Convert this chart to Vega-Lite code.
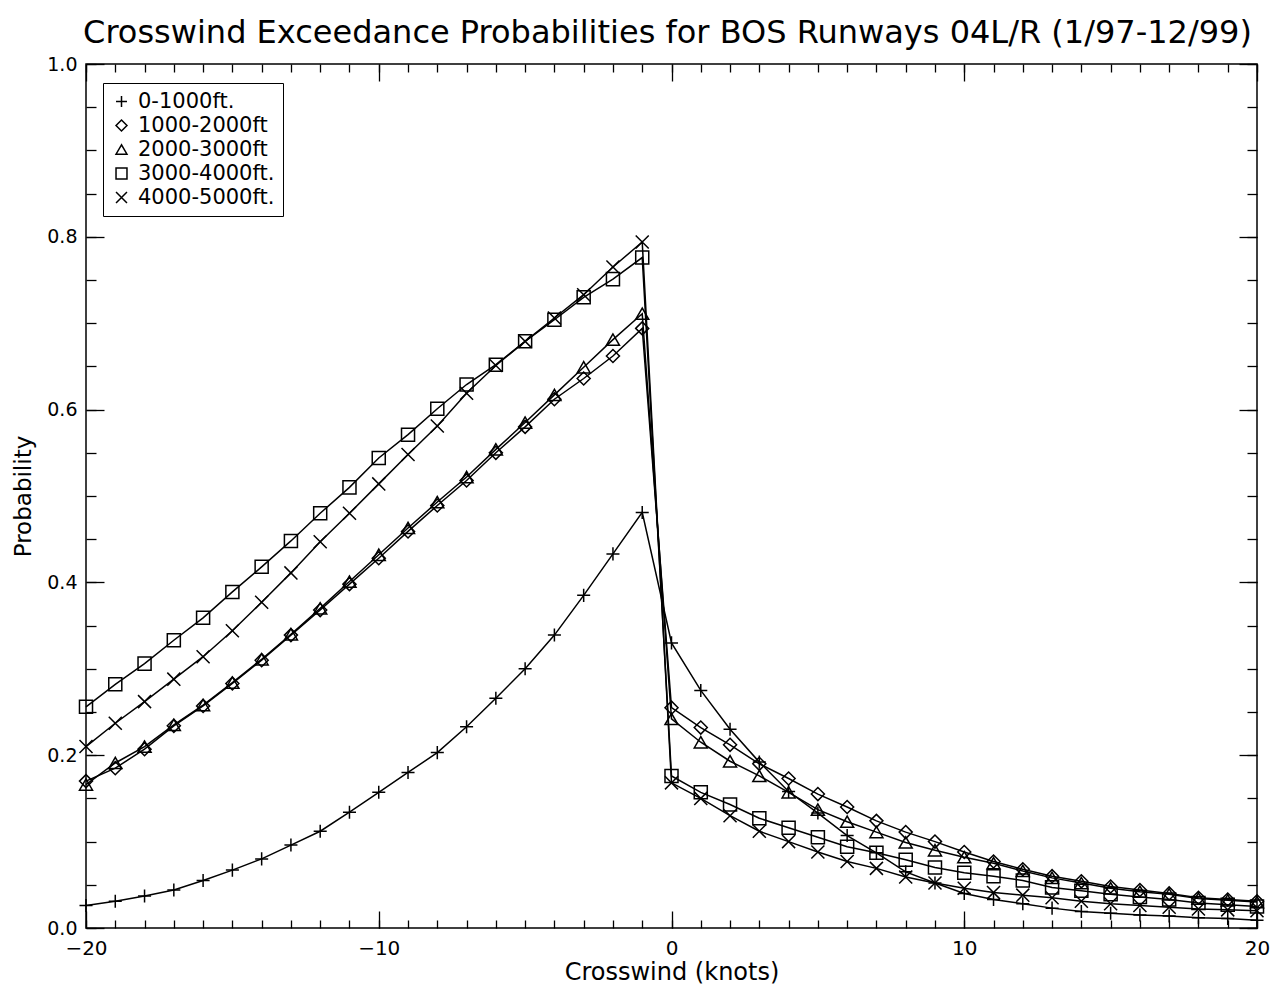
{
 "$schema": "https://vega.github.io/schema/vega-lite/v6.json",
 "width": 1171, "height": 864,
 "autosize": {"type": "none"},
 "padding": {"left": 86, "top": 64, "right": 21, "bottom": 67},
 "background": "white",
 "title": {"text": "Crosswind Exceedance Probabilities for BOS Runways 04L/R (1/97-12/99)", "fontSize": 32, "font": "DejaVu Sans", "fontWeight": "normal", "color": "black", "anchor": "middle", "offset": 17, "baseline": "bottom", "dy": 44, "dx": -4},
 "config": {"view": {"stroke": "black", "strokeWidth": 1.5}, "font": "DejaVu Sans"},
 "data": {"values": [
{"x":-20,"p":0.026,"s":"0-1000ft."},{"x":-19,"p":0.031,"s":"0-1000ft."},{"x":-18,"p":0.037,"s":"0-1000ft."},{"x":-17,"p":0.044,"s":"0-1000ft."},{"x":-16,"p":0.055,"s":"0-1000ft."},{"x":-15,"p":0.067,"s":"0-1000ft."},{"x":-14,"p":0.080,"s":"0-1000ft."},{"x":-13,"p":0.096,"s":"0-1000ft."},{"x":-12,"p":0.112,"s":"0-1000ft."},{"x":-11,"p":0.134,"s":"0-1000ft."},{"x":-10,"p":0.157,"s":"0-1000ft."},{"x":-9,"p":0.180,"s":"0-1000ft."},{"x":-8,"p":0.203,"s":"0-1000ft."},{"x":-7,"p":0.233,"s":"0-1000ft."},{"x":-6,"p":0.266,"s":"0-1000ft."},{"x":-5,"p":0.300,"s":"0-1000ft."},{"x":-4,"p":0.339,"s":"0-1000ft."},{"x":-3,"p":0.385,"s":"0-1000ft."},{"x":-2,"p":0.433,"s":"0-1000ft."},{"x":-1,"p":0.481,"s":"0-1000ft."},
{"x":0,"p":0.330,"s":"0-1000ft."},{"x":1,"p":0.275,"s":"0-1000ft."},{"x":2,"p":0.230,"s":"0-1000ft."},{"x":3,"p":0.192,"s":"0-1000ft."},{"x":4,"p":0.158,"s":"0-1000ft."},{"x":5,"p":0.133,"s":"0-1000ft."},{"x":6,"p":0.107,"s":"0-1000ft."},{"x":7,"p":0.087,"s":"0-1000ft."},{"x":8,"p":0.065,"s":"0-1000ft."},{"x":9,"p":0.052,"s":"0-1000ft."},{"x":10,"p":0.040,"s":"0-1000ft."},{"x":11,"p":0.033,"s":"0-1000ft."},{"x":12,"p":0.028,"s":"0-1000ft."},{"x":13,"p":0.023,"s":"0-1000ft."},{"x":14,"p":0.019,"s":"0-1000ft."},{"x":15,"p":0.017,"s":"0-1000ft."},{"x":16,"p":0.015,"s":"0-1000ft."},{"x":17,"p":0.014,"s":"0-1000ft."},{"x":18,"p":0.012,"s":"0-1000ft."},{"x":19,"p":0.011,"s":"0-1000ft."},{"x":20,"p":0.009,"s":"0-1000ft."},
{"x":-20,"p":0.170,"s":"1000-2000ft"},{"x":-19,"p":0.185,"s":"1000-2000ft"},{"x":-18,"p":0.207,"s":"1000-2000ft"},{"x":-17,"p":0.234,"s":"1000-2000ft"},{"x":-16,"p":0.257,"s":"1000-2000ft"},{"x":-15,"p":0.283,"s":"1000-2000ft"},{"x":-14,"p":0.310,"s":"1000-2000ft"},{"x":-13,"p":0.339,"s":"1000-2000ft"},{"x":-12,"p":0.368,"s":"1000-2000ft"},{"x":-11,"p":0.398,"s":"1000-2000ft"},{"x":-10,"p":0.428,"s":"1000-2000ft"},{"x":-9,"p":0.459,"s":"1000-2000ft"},{"x":-8,"p":0.489,"s":"1000-2000ft"},{"x":-7,"p":0.518,"s":"1000-2000ft"},{"x":-6,"p":0.550,"s":"1000-2000ft"},{"x":-5,"p":0.580,"s":"1000-2000ft"},{"x":-4,"p":0.612,"s":"1000-2000ft"},{"x":-3,"p":0.636,"s":"1000-2000ft"},{"x":-2,"p":0.662,"s":"1000-2000ft"},{"x":-1,"p":0.694,"s":"1000-2000ft"},
{"x":0,"p":0.255,"s":"1000-2000ft"},{"x":1,"p":0.232,"s":"1000-2000ft"},{"x":2,"p":0.212,"s":"1000-2000ft"},{"x":3,"p":0.190,"s":"1000-2000ft"},{"x":4,"p":0.173,"s":"1000-2000ft"},{"x":5,"p":0.155,"s":"1000-2000ft"},{"x":6,"p":0.140,"s":"1000-2000ft"},{"x":7,"p":0.124,"s":"1000-2000ft"},{"x":8,"p":0.111,"s":"1000-2000ft"},{"x":9,"p":0.100,"s":"1000-2000ft"},{"x":10,"p":0.088,"s":"1000-2000ft"},{"x":11,"p":0.077,"s":"1000-2000ft"},{"x":12,"p":0.068,"s":"1000-2000ft"},{"x":13,"p":0.060,"s":"1000-2000ft"},{"x":14,"p":0.054,"s":"1000-2000ft"},{"x":15,"p":0.048,"s":"1000-2000ft"},{"x":16,"p":0.044,"s":"1000-2000ft"},{"x":17,"p":0.040,"s":"1000-2000ft"},{"x":18,"p":0.035,"s":"1000-2000ft"},{"x":19,"p":0.033,"s":"1000-2000ft"},{"x":20,"p":0.031,"s":"1000-2000ft"},
{"x":-20,"p":0.166,"s":"2000-3000ft"},{"x":-19,"p":0.191,"s":"2000-3000ft"},{"x":-18,"p":0.210,"s":"2000-3000ft"},{"x":-17,"p":0.235,"s":"2000-3000ft"},{"x":-16,"p":0.258,"s":"2000-3000ft"},{"x":-15,"p":0.284,"s":"2000-3000ft"},{"x":-14,"p":0.311,"s":"2000-3000ft"},{"x":-13,"p":0.340,"s":"2000-3000ft"},{"x":-12,"p":0.370,"s":"2000-3000ft"},{"x":-11,"p":0.401,"s":"2000-3000ft"},{"x":-10,"p":0.432,"s":"2000-3000ft"},{"x":-9,"p":0.463,"s":"2000-3000ft"},{"x":-8,"p":0.493,"s":"2000-3000ft"},{"x":-7,"p":0.522,"s":"2000-3000ft"},{"x":-6,"p":0.554,"s":"2000-3000ft"},{"x":-5,"p":0.585,"s":"2000-3000ft"},{"x":-4,"p":0.617,"s":"2000-3000ft"},{"x":-3,"p":0.649,"s":"2000-3000ft"},{"x":-2,"p":0.681,"s":"2000-3000ft"},{"x":-1,"p":0.711,"s":"2000-3000ft"},
{"x":0,"p":0.242,"s":"2000-3000ft"},{"x":1,"p":0.215,"s":"2000-3000ft"},{"x":2,"p":0.193,"s":"2000-3000ft"},{"x":3,"p":0.176,"s":"2000-3000ft"},{"x":4,"p":0.157,"s":"2000-3000ft"},{"x":5,"p":0.137,"s":"2000-3000ft"},{"x":6,"p":0.123,"s":"2000-3000ft"},{"x":7,"p":0.111,"s":"2000-3000ft"},{"x":8,"p":0.099,"s":"2000-3000ft"},{"x":9,"p":0.090,"s":"2000-3000ft"},{"x":10,"p":0.082,"s":"2000-3000ft"},{"x":11,"p":0.075,"s":"2000-3000ft"},{"x":12,"p":0.066,"s":"2000-3000ft"},{"x":13,"p":0.058,"s":"2000-3000ft"},{"x":14,"p":0.052,"s":"2000-3000ft"},{"x":15,"p":0.046,"s":"2000-3000ft"},{"x":16,"p":0.042,"s":"2000-3000ft"},{"x":17,"p":0.039,"s":"2000-3000ft"},{"x":18,"p":0.034,"s":"2000-3000ft"},{"x":19,"p":0.032,"s":"2000-3000ft"},{"x":20,"p":0.030,"s":"2000-3000ft"},
{"x":-20,"p":0.256,"s":"3000-4000ft."},{"x":-19,"p":0.282,"s":"3000-4000ft."},{"x":-18,"p":0.306,"s":"3000-4000ft."},{"x":-17,"p":0.333,"s":"3000-4000ft."},{"x":-16,"p":0.359,"s":"3000-4000ft."},{"x":-15,"p":0.389,"s":"3000-4000ft."},{"x":-14,"p":0.418,"s":"3000-4000ft."},{"x":-13,"p":0.448,"s":"3000-4000ft."},{"x":-12,"p":0.480,"s":"3000-4000ft."},{"x":-11,"p":0.510,"s":"3000-4000ft."},{"x":-10,"p":0.544,"s":"3000-4000ft."},{"x":-9,"p":0.571,"s":"3000-4000ft."},{"x":-8,"p":0.601,"s":"3000-4000ft."},{"x":-7,"p":0.629,"s":"3000-4000ft."},{"x":-6,"p":0.652,"s":"3000-4000ft."},{"x":-5,"p":0.679,"s":"3000-4000ft."},{"x":-4,"p":0.704,"s":"3000-4000ft."},{"x":-3,"p":0.730,"s":"3000-4000ft."},{"x":-2,"p":0.751,"s":"3000-4000ft."},{"x":-1,"p":0.776,"s":"3000-4000ft."},
{"x":0,"p":0.176,"s":"3000-4000ft."},{"x":1,"p":0.157,"s":"3000-4000ft."},{"x":2,"p":0.143,"s":"3000-4000ft."},{"x":3,"p":0.127,"s":"3000-4000ft."},{"x":4,"p":0.116,"s":"3000-4000ft."},{"x":5,"p":0.105,"s":"3000-4000ft."},{"x":6,"p":0.094,"s":"3000-4000ft."},{"x":7,"p":0.087,"s":"3000-4000ft."},{"x":8,"p":0.079,"s":"3000-4000ft."},{"x":9,"p":0.070,"s":"3000-4000ft."},{"x":10,"p":0.064,"s":"3000-4000ft."},{"x":11,"p":0.060,"s":"3000-4000ft."},{"x":12,"p":0.055,"s":"3000-4000ft."},{"x":13,"p":0.047,"s":"3000-4000ft."},{"x":14,"p":0.043,"s":"3000-4000ft."},{"x":15,"p":0.039,"s":"3000-4000ft."},{"x":16,"p":0.036,"s":"3000-4000ft."},{"x":17,"p":0.033,"s":"3000-4000ft."},{"x":18,"p":0.029,"s":"3000-4000ft."},{"x":19,"p":0.027,"s":"3000-4000ft."},{"x":20,"p":0.025,"s":"3000-4000ft."},
{"x":-20,"p":0.210,"s":"4000-5000ft."},{"x":-19,"p":0.237,"s":"4000-5000ft."},{"x":-18,"p":0.262,"s":"4000-5000ft."},{"x":-17,"p":0.288,"s":"4000-5000ft."},{"x":-16,"p":0.314,"s":"4000-5000ft."},{"x":-15,"p":0.344,"s":"4000-5000ft."},{"x":-14,"p":0.377,"s":"4000-5000ft."},{"x":-13,"p":0.411,"s":"4000-5000ft."},{"x":-12,"p":0.447,"s":"4000-5000ft."},{"x":-11,"p":0.480,"s":"4000-5000ft."},{"x":-10,"p":0.514,"s":"4000-5000ft."},{"x":-9,"p":0.548,"s":"4000-5000ft."},{"x":-8,"p":0.581,"s":"4000-5000ft."},{"x":-7,"p":0.619,"s":"4000-5000ft."},{"x":-6,"p":0.651,"s":"4000-5000ft."},{"x":-5,"p":0.679,"s":"4000-5000ft."},{"x":-4,"p":0.706,"s":"4000-5000ft."},{"x":-3,"p":0.733,"s":"4000-5000ft."},{"x":-2,"p":0.765,"s":"4000-5000ft."},{"x":-1,"p":0.794,"s":"4000-5000ft."},
{"x":0,"p":0.168,"s":"4000-5000ft."},{"x":1,"p":0.150,"s":"4000-5000ft."},{"x":2,"p":0.130,"s":"4000-5000ft."},{"x":3,"p":0.112,"s":"4000-5000ft."},{"x":4,"p":0.100,"s":"4000-5000ft."},{"x":5,"p":0.088,"s":"4000-5000ft."},{"x":6,"p":0.077,"s":"4000-5000ft."},{"x":7,"p":0.069,"s":"4000-5000ft."},{"x":8,"p":0.059,"s":"4000-5000ft."},{"x":9,"p":0.052,"s":"4000-5000ft."},{"x":10,"p":0.046,"s":"4000-5000ft."},{"x":11,"p":0.041,"s":"4000-5000ft."},{"x":12,"p":0.038,"s":"4000-5000ft."},{"x":13,"p":0.035,"s":"4000-5000ft."},{"x":14,"p":0.031,"s":"4000-5000ft."},{"x":15,"p":0.028,"s":"4000-5000ft."},{"x":16,"p":0.026,"s":"4000-5000ft."},{"x":17,"p":0.024,"s":"4000-5000ft."},{"x":18,"p":0.022,"s":"4000-5000ft."},{"x":19,"p":0.021,"s":"4000-5000ft."},{"x":20,"p":0.020,"s":"4000-5000ft."}
 ]},
 "layer": [
  {"mark": {"type": "line", "color": "black", "strokeWidth": 1.5},
   "encoding": {
    "detail": {"field": "s"},
    "x": {"field": "x", "type": "quantitative", "scale": {"domain": [-20, 20], "nice": false, "zero": false},
          "axis": {"orient": "bottom", "values": [-20,-19,-18,-17,-16,-15,-14,-13,-12,-11,-10,-9,-8,-7,-6,-5,-4,-3,-2,-1,0,1,2,3,4,5,6,7,8,9,10,11,12,13,14,15,16,17,18,19,20],
                   "tickSize": -8, "tickColor": "black", "tickWidth": 1.3, "domain": false, "grid": false,
                   "labelExpr": "datum.value % 10 === 0 ? datum.label : ''", "labelFontSize": 20, "labelColor": "black", "labelPadding": 18, "labelFont": "DejaVu Sans", "labelFlush": false,
                   "title": "Crosswind (knots)", "titleFontSize": 24, "titleFontWeight": "normal", "titleColor": "black", "titlePadding": 2, "titleFont": "DejaVu Sans"}},
    "y": {"field": "p", "type": "quantitative", "scale": {"domain": [0, 1], "nice": false, "zero": false},
          "axis": {"orient": "left", "values": [0,0.05,0.1,0.15,0.2,0.25,0.3,0.35,0.4,0.45,0.5,0.55,0.6,0.65,0.7,0.75,0.8,0.85,0.9,0.95,1],
                   "tickSize": -10, "tickColor": "black", "tickWidth": 1.3, "domain": false, "grid": false,
                   "labelExpr": "abs(datum.value*5 - round(datum.value*5)) < 0.001 ? format(datum.value, '.1f') : ''", "labelFontSize": 19, "labelColor": "black", "labelPadding": 19, "labelFont": "DejaVu Sans", "labelFlush": false,
                   "title": "Probability", "titleFontSize": 23, "titleFontWeight": "normal", "titleColor": "black", "titlePadding": 11, "titleFont": "DejaVu Sans"}}
   }},
  {"mark": {"type": "point", "filled": false, "stroke": "black", "strokeWidth": 1.5, "size": 170, "opacity": 1},
   "encoding": {
    "shape": {"field": "s", "type": "nominal",
              "scale": {"domain": ["0-1000ft.", "1000-2000ft", "2000-3000ft", "3000-4000ft.", "4000-5000ft."],
                        "range": ["M-1,0H1M0,-1V1", "diamond", "triangle-up", "square", "M-1,-1L1,1M-1,1L1,-1"]},
              "legend": {"orient": "none", "legendX": 17, "legendY": 19, "title": null, "strokeColor": "black", "padding": 8,
                         "labelFontSize": 21, "labelFont": "DejaVu Sans", "labelColor": "black", "symbolSize": 120, "symbolStrokeWidth": 1.5,
                         "symbolStrokeColor": "black", "symbolFillColor": "transparent", "rowPadding": 2, "labelOffset": 6, "symbolOffset": 0}},
    "x": {"field": "x", "type": "quantitative",
          "axis": {"orient": "bottom", "values": [-20,-10,0,10,20], "tickSize": -17, "tickColor": "black", "tickWidth": 1.3, "labels": false, "domain": false, "grid": false, "title": null}},
    "y": {"field": "p", "type": "quantitative",
          "axis": {"orient": "left", "values": [0,0.2,0.4,0.6,0.8,1], "tickSize": -18, "tickColor": "black", "tickWidth": 1.3, "labels": false, "domain": false, "grid": false, "title": null}}
   }},
  {"mark": {"type": "point", "opacity": 0},
   "encoding": {
    "x": {"field": "x", "type": "quantitative",
          "axis": {"orient": "top", "values": [-20,-10,0,10,20], "tickSize": -17, "tickColor": "black", "tickWidth": 1.3, "labels": false, "domain": false, "grid": false, "title": null}},
    "y": {"field": "p", "type": "quantitative",
          "axis": {"orient": "right", "values": [0,0.2,0.4,0.6,0.8,1], "tickSize": -18, "tickColor": "black", "tickWidth": 1.3, "labels": false, "domain": false, "grid": false, "title": null}}
   }},
  {"mark": {"type": "point", "opacity": 0},
   "encoding": {
    "x": {"field": "x", "type": "quantitative",
          "axis": {"orient": "top", "values": [-20,-19,-18,-17,-16,-15,-14,-13,-12,-11,-10,-9,-8,-7,-6,-5,-4,-3,-2,-1,0,1,2,3,4,5,6,7,8,9,10,11,12,13,14,15,16,17,18,19,20], "tickSize": -8, "tickColor": "black", "tickWidth": 1.3, "labels": false, "domain": false, "grid": false, "title": null}},
    "y": {"field": "p", "type": "quantitative",
          "axis": {"orient": "right", "values": [0,0.05,0.1,0.15,0.2,0.25,0.3,0.35,0.4,0.45,0.5,0.55,0.6,0.65,0.7,0.75,0.8,0.85,0.9,0.95,1], "tickSize": -10, "tickColor": "black", "tickWidth": 1.3, "labels": false, "domain": false, "grid": false, "title": null}}
   }}
 ],
 "resolve": {"axis": {"x": "independent", "y": "independent"}}
}
